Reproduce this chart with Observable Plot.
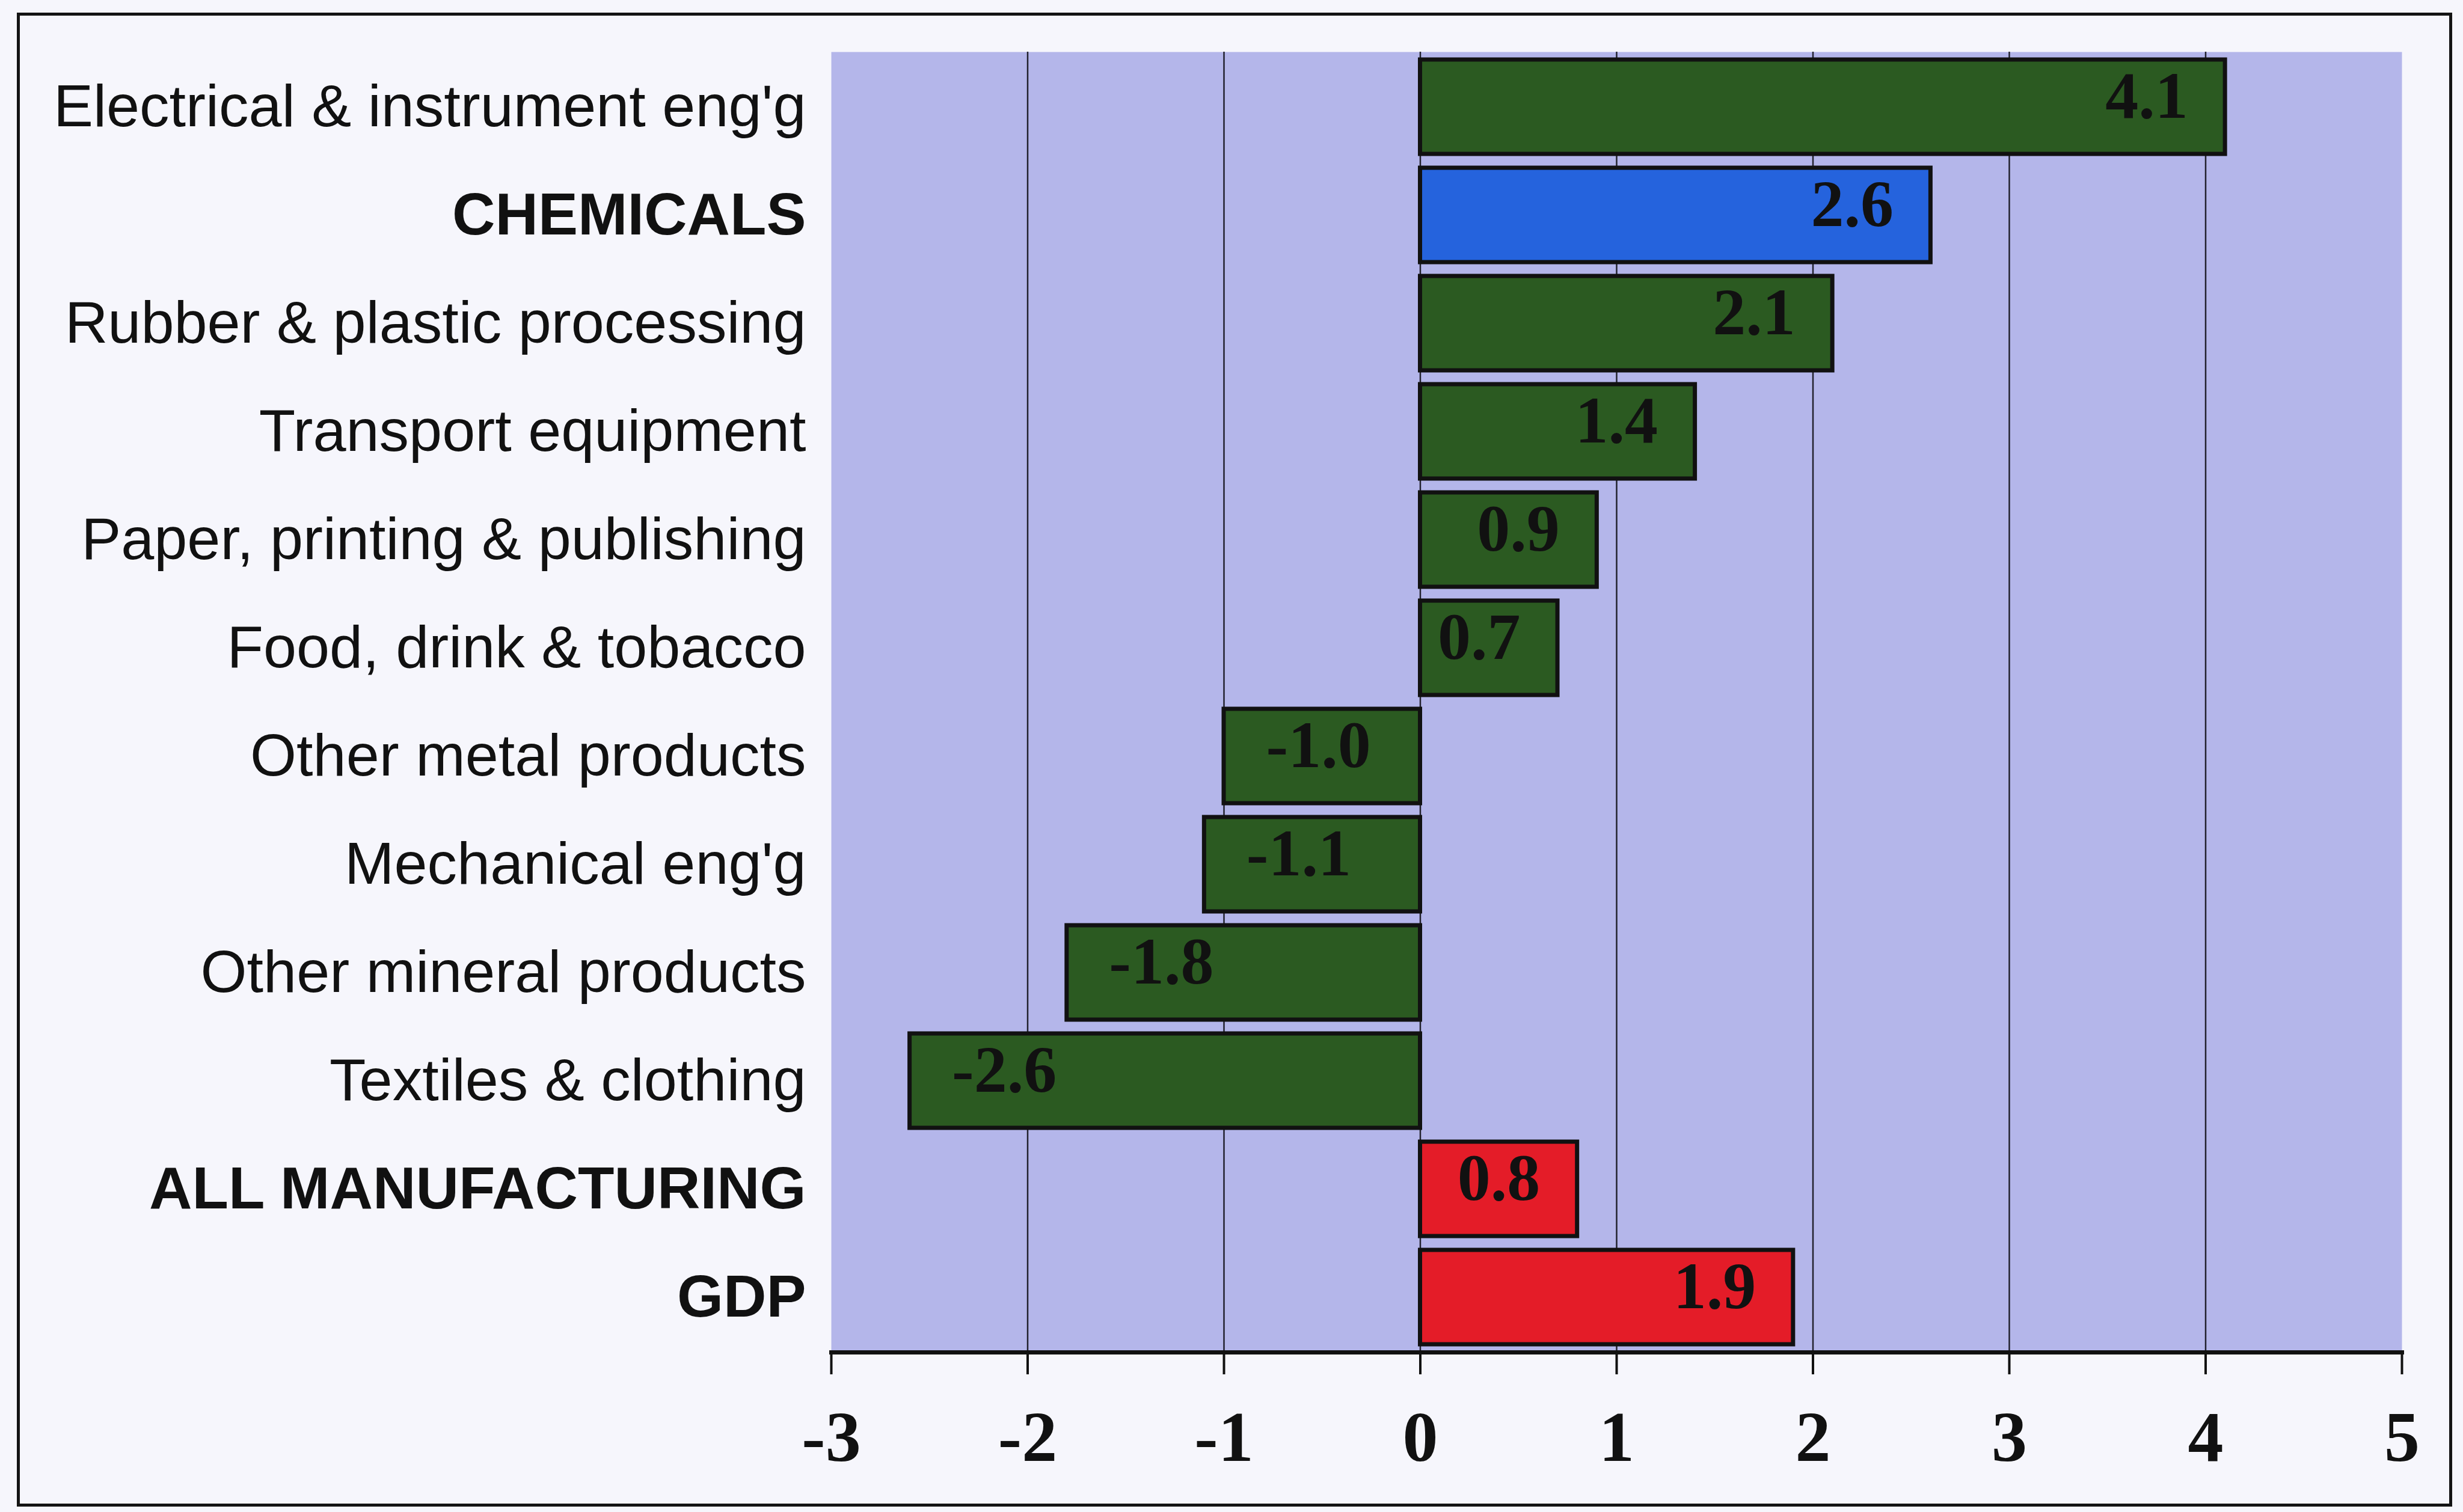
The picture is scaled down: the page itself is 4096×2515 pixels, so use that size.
<!DOCTYPE html>
<html>
<head>
<meta charset="utf-8">
<script src="https://cdn.jsdelivr.net/npm/d3@7"></script>
<script src="https://cdn.jsdelivr.net/npm/@observablehq/plot@0.6"></script>
<style>
  html, body { margin: 0; padding: 0; background: #f6f6fc; }
  #chart { position: relative; width: 4096px; height: 2515px; overflow: hidden; }
  #chart svg { position: absolute; left: 0; top: 0; }
  #border {
    position: absolute; left: 28px; top: 21px; width: 4040px; height: 2475px;
    border: 5px solid #141414; pointer-events: none;
  }
</style>
</head>
<body>
<div id="chart"><div id="border"></div></div>
<script>
// Annual growth by manufacturing sector, % per year
const sectors = [
  "Electrical & instrument eng'g",
  "CHEMICALS",
  "Rubber & plastic processing",
  "Transport equipment",
  "Paper, printing & publishing",
  "Food, drink & tobacco",
  "Other metal products",
  "Mechanical eng'g",
  "Other mineral products",
  "Textiles & clothing",
  "ALL MANUFACTURING",
  "GDP"
];
const growth = [4.1, 2.6, 2.1, 1.4, 0.9, 0.7, -1.0, -1.1, -1.8, -2.6, 0.8, 1.9];
const groups = ["sector", "chemicals", "sector", "sector", "sector", "sector",
                "sector", "sector", "sector", "sector", "total", "total"];
const boldLabels = ["CHEMICALS", "ALL MANUFACTURING", "GDP"];
const xTicks = [-3, -2, -1, 0, 1, 2, 3, 4, 5];
const gridTicks = [-2, -1, 0, 1, 2, 3, 4];

const groupDomain = ["sector", "chemicals", "total"];
const groupColors = ["#2b5a21", "#2563dd", "#e41c28"];

const rows = sectors.map((s, i) => ({sector: s, value: growth[i], group: groups[i]}));
const plainLabels = sectors.filter(s => !boldLabels.includes(s));

const serif = "'Liberation Serif', 'Times New Roman', serif";
const sans = "'Liberation Sans', Arial, sans-serif";
// plain hyphen for negatives, as printed on the axis and labels
const fmt = d => String(d);

const chart = Plot.plot({
  width: 4096,
  height: 2515,
  marginLeft: 1382,
  marginRight: 102,
  marginTop: 86,
  marginBottom: 266,
  style: {background: "transparent", fontFamily: sans, color: "#111"},
  x: {domain: [-3, 5], ticks: xTicks, tickFormat: fmt},
  y: {domain: sectors, paddingInner: 0.13, paddingOuter: 0.065},
  color: {domain: groupDomain, range: groupColors},
  marks: [
    Plot.frame({fill: "#b4b6ea", stroke: null}),
    Plot.ruleX(gridTicks, {stroke: "#22222e", strokeWidth: 2.5}),
    Plot.barX(rows, {x: "value", y: "sector", fill: "group", stroke: "#111", strokeWidth: 7}),
    Plot.text(rows.filter(d => d.value >= 0), {
      x: "value", y: "sector", text: d => d.value.toFixed(1),
      textAnchor: "end", dx: -62, dy: -17,
      fontFamily: serif, fontWeight: "bold", fontSize: 110, fill: "#111"
    }),
    Plot.text(rows.filter(d => d.value < 0), {
      x: "value", y: "sector", text: d => d.value.toFixed(1),
      textAnchor: "start", dx: 70, dy: -17,
      fontFamily: serif, fontWeight: "bold", fontSize: 110, fill: "#111"
    }),
    Plot.frame({anchor: "bottom", stroke: "#111", strokeWidth: 7}),
    Plot.axisX({
      ticks: xTicks, tickFormat: fmt, tickSize: 37, tickPadding: 60, strokeWidth: 4,
      fontSize: 118, fontFamily: serif, fontWeight: "bold", label: null
    }),
    Plot.axisY({ticks: plainLabels, tickSize: 0, tickPadding: 42, fontSize: 99, label: null}),
    Plot.axisY({ticks: boldLabels, tickSize: 0, tickPadding: 42, fontSize: 99, fontWeight: "bold", label: null})
  ]
});

document.getElementById("chart").prepend(chart);
</script>
</body>
</html>
